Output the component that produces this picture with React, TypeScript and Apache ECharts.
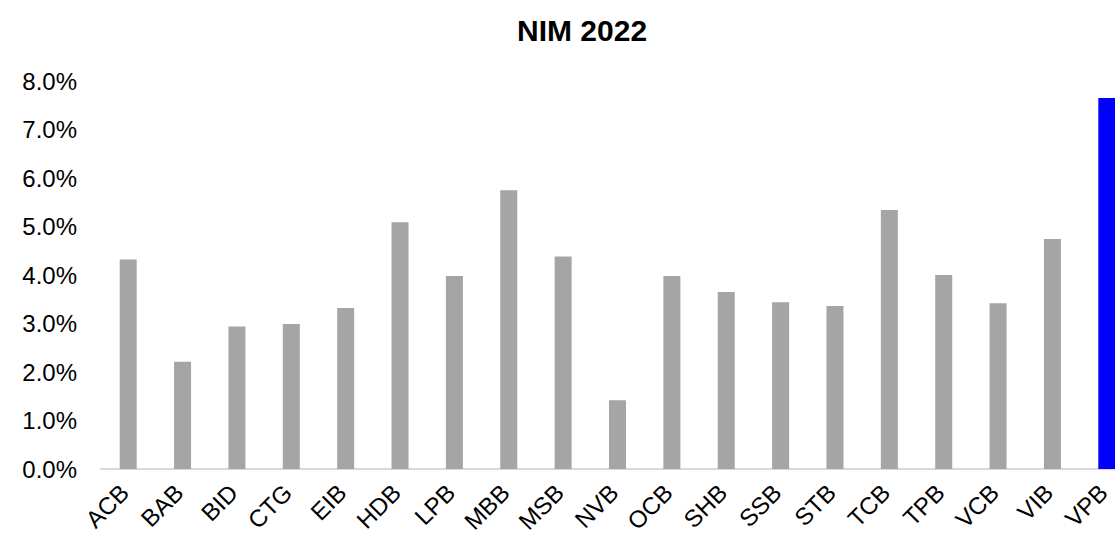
import React, { useEffect, useRef } from "react";
import * as echarts from "echarts";

const categories = ["ACB", "BAB", "BID", "CTG", "EIB", "HDB", "LPB", "MBB", "MSB", "NVB", "OCB", "SHB", "SSB", "STB", "TCB", "TPB", "VCB", "VIB", "VPB"];
const nimValues = [4.32, 2.21, 2.94, 2.99, 3.32, 5.09, 3.98, 5.75, 4.38, 1.42, 3.98, 3.65, 3.44, 3.36, 5.34, 4.0, 3.42, 4.74, 7.65];
const highlighted = ["VPB"];
const yTicks = { min: 0, max: 8, interval: 1 };

export default function App() {
  const ref = useRef<HTMLDivElement>(null);
  useEffect(() => {
    if (!ref.current) return;
    const chart = echarts.init(ref.current, null, { renderer: "svg" });
    const font = "'Liberation Sans', Arial, sans-serif";
    chart.setOption({
      animation: false,
      backgroundColor: "#ffffff",
      title: {
        text: "NIM 2022",
        left: 512,
        top: 10,
        textStyle: { fontFamily: font, fontSize: 30, fontWeight: "bold", color: "#000000" },
      },
      grid: { left: 101, right: 0, top: 81, bottom: 70, containLabel: false, outerBoundsMode: "none" },
      xAxis: {
        type: "category",
        data: categories,
        axisLine: { show: true, lineStyle: { color: "#d9d9d9", width: 2 } },
        axisTick: { show: false },
        axisLabel: {
          rotate: 45,
          margin: 16,
          padding: [0, 5, 0, 0],
          fontFamily: font,
          fontSize: 24,
          color: "#000000",
          interval: 0,
        },
      },
      yAxis: {
        type: "value",
        min: yTicks.min,
        max: yTicks.max,
        interval: yTicks.interval,
        splitLine: { show: false },
        axisLine: { show: false },
        axisTick: { show: false },
        axisLabel: {
          margin: 24,
          fontFamily: font,
          fontSize: 24,
          color: "#000000",
          formatter: (v: number) => v.toFixed(1) + "%",
        },
      },
      series: [
        {
          type: "bar",
          barWidth: 17,
          data: nimValues.map((v, i) => ({
            value: v,
            itemStyle: { color: highlighted.includes(categories[i]) ? "#0000ff" : "#a5a5a5" },
          })),
        },
      ],
    });
    return () => chart.dispose();
  }, []);
  return (
    <div style={{ position: "absolute", left: 0, top: 0, width: 1115, height: 539, overflow: "hidden" }}>
      <div ref={ref} style={{ width: 1134, height: 539 }} />
    </div>
  );
}
